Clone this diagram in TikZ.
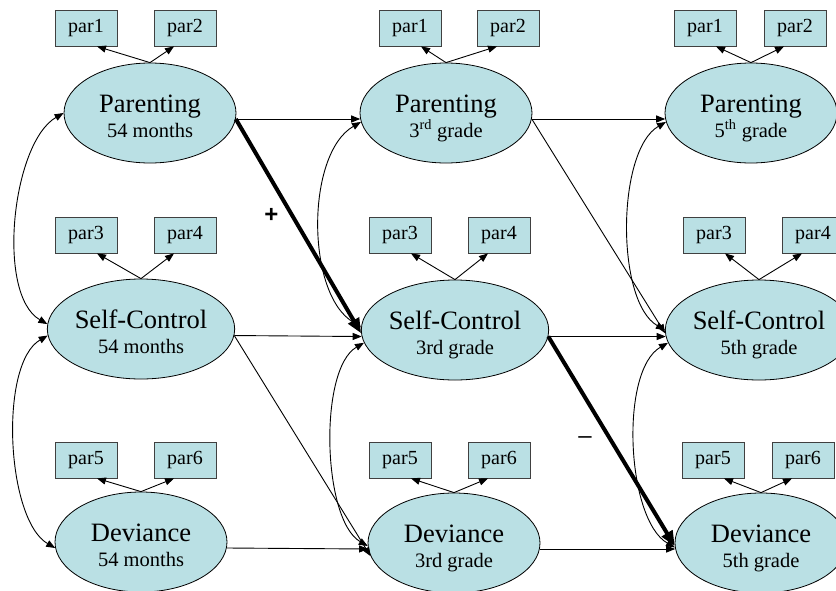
\documentclass[tikz,border=0pt]{standalone}
\usepackage{fontspec}
\setmainfont{Liberation Serif}
\newfontfamily\signfont{Liberation Sans}
\usetikzlibrary{shapes.geometric,arrows.meta,calc}
\definecolor{lv}{RGB}{186,224,228}
\newcommand\latxt[2]{\rule{0pt}{30pt}#1\\{\fontsize{20.5}{25}\selectfont #2}\rule[-6pt]{0pt}{6pt}}
\begin{document}
\begin{tikzpicture}[x=1pt,y=1pt,
  latent/.style={ellipse,draw,fill=lv,line width=0.8pt,minimum width=172pt,minimum height=100pt,
    inner sep=0pt,align=center,font=\fontsize{26.5}{25}\selectfont},
  ind/.style={rectangle,draw=black!75,fill=lv,line width=0.8pt,minimum width=62pt,minimum height=36pt,
    inner sep=0pt,font=\fontsize{20}{22}\selectfont},
  arr/.style={-{Triangle[length=9pt,width=7pt]},line width=0.9pt},
  cov/.style={{Triangle[length=9pt,width=7pt]}-{Triangle[length=9pt,width=7pt]},line width=0.9pt},
  boldpath/.style={-{Triangle[length=15pt,width=12pt]},line width=4pt},
  sign/.style={font=\signfont\fontsize{24}{24}\selectfont,inner sep=0pt}]
\useasboundingbox (0,-590) rectangle (836,0);
\clip (0,-590) rectangle (836,0);
% latent variables
\node[latent] (P1) at (150,-113) {\latxt{Parenting}{54 months}};
\node[latent] (S1) at (141,-329) {\latxt{Self-Control}{54 months}};
\node[latent] (D1) at (141,-542) {\latxt{Deviance}{54 months}};
\node[latent] (P2) at (446,-113) {\latxt{Parenting}{3\textsuperscript{rd} grade}};
\node[latent] (S2) at (455,-330) {\latxt{Self-Control}{3rd grade}};
\node[latent] (D2) at (454,-543) {\latxt{Deviance}{3rd grade}};
\node[latent] (P3) at (751,-113) {\latxt{Parenting}{5\textsuperscript{th} grade}};
\node[latent] (S3) at (759,-330) {\latxt{Self-Control}{5th grade}};
\node[latent] (D3) at (761,-543) {\latxt{Deviance}{5th grade}};
% indicators
\node[ind] (a1) at (86,-28) {par1};
\node[ind] (a2) at (185,-28) {par2};
\node[ind] (b1) at (86,-235) {par3};
\node[ind] (b2) at (185,-235) {par4};
\node[ind] (c1) at (86,-460) {par5};
\node[ind] (c2) at (185,-460) {par6};
\node[ind] (a3) at (410,-28) {par1};
\node[ind] (a4) at (508,-28) {par2};
\node[ind] (b3) at (400,-235) {par3};
\node[ind] (b4) at (499,-235) {par4};
\node[ind] (c3) at (400,-460) {par5};
\node[ind] (c4) at (499,-460) {par6};
\node[ind] (a5) at (705,-28) {par1};
\node[ind] (a6) at (795,-28) {par2};
\node[ind] (b5) at (714,-235) {par3};
\node[ind] (b6) at (813,-235) {par4};
\node[ind] (c5) at (713,-460) {par5};
\node[ind] (c6) at (803,-460) {par6};
\foreach \l/\u/\v in {P1/a1/a2,S1/b1/b2,D1/c1/c2,P2/a3/a4,S2/b3/b4,D2/c3/c4,P3/a5/a6,S3/b5/b6,D3/c5/c6}{
  \draw[arr] (\l.north) -- ($(\u.south)!0.35!(\u.south east)$);
  \draw[arr] (\l.north) -- ($(\v.south)!0.35!(\v.south west)$);
}
% stability paths
\draw[arr] (P1.-4) -- (P2.184);
\draw[arr] (S1.-4) -- (S2.184);
\draw[arr] (D1.-4) -- (D2.184);
\draw[arr] (P2.-4) -- (P3.184);
\draw[arr] (S2.-4) -- (S3.184);
\draw[arr] (D2.-4) -- (D3.184);
% cross-lagged paths
\draw[boldpath] (P1.-4) -- (S2.182);
\draw[arr] (S1.-4) -- (D2.189);
\draw[arr] (P2.-4) -- (S3.182);
\draw[boldpath] (S2.-4) -- (D3.182);
% covariances
\draw[cov] (P1.180) to[out=210,in=150,looseness=0.72] (S1.177);
\draw[cov] (S1.184) to[out=210,in=150,looseness=0.68] (D1.184);
\draw[cov] (P2.186) to[out=210,in=150,looseness=0.8] (S2.178);
\draw[cov] (S2.188) to[out=210,in=150,looseness=0.66] (D2.182);
\draw[cov] (P3.186) to[out=210,in=150,looseness=0.7] (S3.180);
\draw[cov] (S3.188) to[out=210,in=150,looseness=0.7] (D3.183);
% signs
\node[sign,font=\signfont\bfseries\fontsize{24}{24}\selectfont] (plus) at (271.5,-215) {+};
\node[sign] (minus) at (585,-440) {–};
\end{tikzpicture}
\end{document}
